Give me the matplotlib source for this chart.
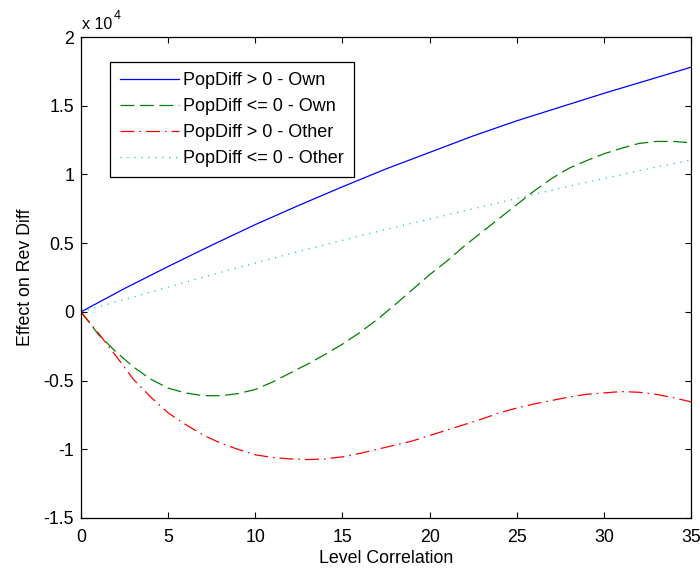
import matplotlib
matplotlib.use("Agg")
import matplotlib.pyplot as plt

plt.rcParams['font.family'] = ['Liberation Sans', 'DejaVu Sans']
plt.rcParams['axes.unicode_minus'] = False
plt.rcParams['lines.scale_dashes'] = False

# values in units of 1e4
x_int = list(range(0, 36))
x_coarse = [0, 2.5, 5, 7.5, 10, 12.5, 15, 17.5, 20, 22.5, 25, 27.5, 30, 32.5, 35]

own_pos = [0, 0.17, 0.33, 0.485, 0.635, 0.775, 0.91, 1.04, 1.16, 1.28, 1.39,
           1.49, 1.59, 1.685, 1.78]
other_neg = [0, 0.09, 0.18, 0.27, 0.355, 0.44, 0.52, 0.60, 0.675, 0.75, 0.825,
             0.90, 0.97, 1.04, 1.105]
own_neg = [0, -0.165, -0.29, -0.40, -0.49, -0.555, -0.59, -0.61, -0.61, -0.595,
           -0.565, -0.51, -0.445, -0.38, -0.31, -0.235, -0.15, -0.055, 0.05,
           0.16, 0.27, 0.37, 0.48, 0.58, 0.68, 0.78, 0.88, 0.97, 1.045, 1.10,
           1.15, 1.19, 1.225, 1.24, 1.24, 1.23]
other_pos = [0, -0.155, -0.32, -0.49, -0.62, -0.735, -0.82, -0.895, -0.955,
             -1.0, -1.04, -1.06, -1.07, -1.075, -1.07, -1.055, -1.03, -1.0,
             -0.97, -0.94, -0.90, -0.86, -0.82, -0.78, -0.735, -0.70, -0.67,
             -0.645, -0.62, -0.60, -0.59, -0.58, -0.585, -0.60, -0.625, -0.655]

labels = ['PopDiff > 0 - Own', 'PopDiff <= 0 - Own',
          'PopDiff > 0 - Other', 'PopDiff <= 0 - Other']
xticks = [0, 5, 10, 15, 20, 25, 30, 35]
yticks = [-1.5, -1, -0.5, 0, 0.5, 1, 1.5, 2]
ytick_labels = ['-1.5', '-1', '-0.5', '0', '0.5', '1', '1.5', '2']

fig = plt.figure(figsize=(7.0, 5.71), dpi=100)
ax = fig.add_axes([81/700, 1-518/571, 610/700, 481/571])

lw = 0.9
ax.plot(x_coarse, own_pos, color=(0, 0, 1), lw=lw, label=labels[0])
l2, = ax.plot(x_int, own_neg, color=(0, 0.5, 0), lw=lw, label=labels[1])
l2.set_dashes([10, 4])
l3, = ax.plot(x_int, other_pos, color=(1, 0, 0), lw=lw, label=labels[2])
l3.set_dashes([10, 3.6, 1.2, 3.6])
l4, = ax.plot(x_coarse, other_neg, color=(0, 0.75, 0.75), lw=lw, label=labels[3])
l4.set_dashes([0.8, 4.2])

ax.set_xlim(0, 35)
ax.set_ylim(-1.5, 2)
ax.set_xticks(xticks)
ax.set_yticks(yticks)
ax.set_yticklabels(ytick_labels)
ax.tick_params(direction='in', length=4.5, width=0.8, top=True, right=True,
               labelsize=12.8)
ax.tick_params(axis='x', pad=8)
ax.tick_params(axis='y', pad=5)
for s in ax.spines.values():
    s.set_linewidth(0.9)

ax.set_xlabel('Level Correlation', fontsize=12.8, labelpad=3)
ax.set_ylabel('Effect on Rev Diff', fontsize=12.8, labelpad=7)

fig.text(82/700, 1-29/571, 'x 10', fontsize=11.5, ha='left', va='baseline')
fig.text(114/700, 1-19/571, '4', fontsize=9, ha='left', va='baseline')

leg = ax.legend(loc='upper left', bbox_to_anchor=(29/610, 1-25/481),
                borderaxespad=0, fancybox=False, framealpha=1,
                edgecolor='black', fontsize=13.0, handlelength=3.25,
                handletextpad=0.25, borderpad=0.55, labelspacing=0.5)
leg.get_frame().set_linewidth(0.9)

fig.savefig('out.png', dpi=100)
